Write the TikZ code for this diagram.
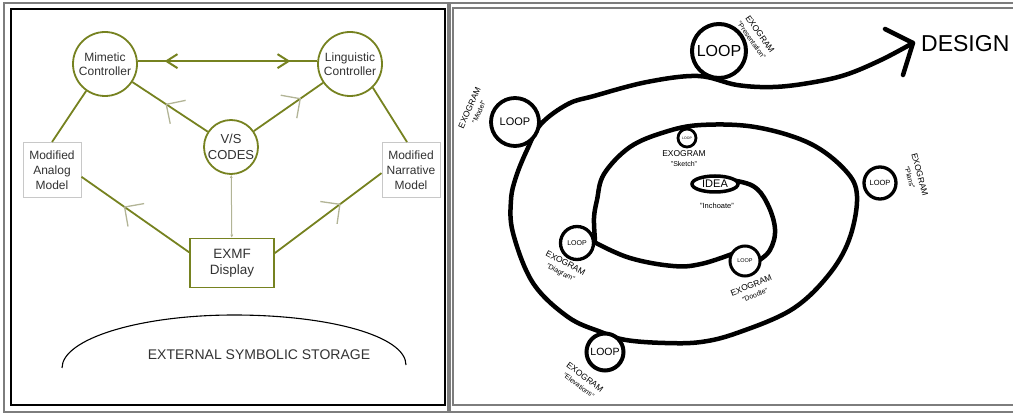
\documentclass[tikz,border=0pt]{standalone}
\usepackage{fontspec}
\setmainfont{Liberation Sans}
\usetikzlibrary{arrows.meta,decorations.markings,shapes.geometric}
\definecolor{olv}{RGB}{118,130,32}
\definecolor{pale}{RGB}{178,180,150}
\definecolor{txt}{RGB}{50,50,50}
\definecolor{boxgray}{RGB}{200,200,200}
\definecolor{framegray}{RGB}{125,125,125}
\tikzset{
 ctrl/.style={circle, draw=olv, line width=1.8pt, fill=white, minimum size=64pt, inner sep=0pt, align=center, text=txt, font=\fontsize{12}{14.5}\selectfont},
 modelbox/.style={rectangle, draw=boxgray, line width=1pt, fill=white, minimum width=58pt, minimum height=55pt, inner sep=0pt, align=center, text=txt, font=\fontsize{12}{15}\selectfont},
 olvline/.style={draw=olv, line width=1.8pt},
 thinline/.style={draw=pale, line width=1pt},
 backbarb/.style={postaction={decorate}, decoration={markings, mark=at position #1 with {\draw[pale, line width=1.3pt] (14pt,14pt) -- (0pt,0pt) -- (14pt,-14pt);}}},
 fwdbarb/.style={postaction={decorate}, decoration={markings, mark=at position #1 with {\draw[pale, line width=1.3pt] (-14pt,14pt) -- (0pt,0pt) -- (-14pt,-14pt);}}},
 loopc/.style={circle, draw=black, fill=white, inner sep=0pt},
 exo/.style={inner sep=0pt, align=center, font=\fontsize{8.5}{8.5}\selectfont},
 spiral/.style={draw=black, line width=4.5pt, line cap=round, line join=round},
}
\newcommand{\qline}[1]{{\fontsize{7}{7}\selectfont"#1"}}
\begin{document}
\begin{tikzpicture}[x=1pt,y=-1pt]
\useasboundingbox (0,0) rectangle (1013,414);
% frames
\draw[framegray, line width=1.5pt] (4,3) rectangle (448,412);
\draw[black, line width=1.8pt] (11,9) rectangle (445,405);
\draw[framegray, line width=1.5pt] (450,3) rectangle (1020,412);
\draw[framegray, line width=1.2pt] (453,8) rectangle (1020,405);

% ---------- left panel ----------
\node[ctrl] (M) at (105,64) {Mimetic\\Controller};
\node[ctrl] (L) at (350,64) {Linguistic\\Controller};
\node[ctrl, minimum size=54pt, font=\fontsize{13}{16.5}\selectfont] (VS) at (231,147) {V/S\\CODES};
\node[modelbox] (A) at (52,170) {Modified\\Analog\\Model};
\node[modelbox] (N) at (411,170) {Modified\\Narrative\\Model};
\node[draw=olv, line width=1.6pt, minimum width=84pt, minimum height=49pt, inner sep=0pt, align=center, text=txt, font=\fontsize{13.5}{16}\selectfont] (E) at (232,263) {EXMF\\Display};

\draw[olvline, postaction={decorate}, decoration={markings,
  mark=at position 0.16 with {\draw[olv,line width=2pt] (11pt,7pt)--(0pt,0pt)--(11pt,-7pt);},
  mark=at position 0.84 with {\draw[olv,line width=2pt] (-11pt,7pt)--(0pt,0pt)--(-11pt,-7pt);}}]
  (M.5) -- (L.175);
\draw[olvline, backbarb=0.45] (M) -- (VS);
\draw[olvline, backbarb=0.33] (L) -- (VS);
\draw[olvline] (M.235) -- (A.north);
\draw[olvline] (L.-46) -- ([xshift=-4pt]N.north);
\draw[olvline, backbarb=0.40] (A.-13) -- (E.166);
\draw[olvline, fwdbarb=0.61] (E.13) -- (N.186);
\draw[thinline, {Latex[length=3pt,width=3pt]}-{Latex[length=3pt,width=3pt]}] (VS) -- (E);

\draw[black, line width=1.1pt] (62,368) .. controls (62,339) and (139,315) .. (234,315)
  .. controls (329,315) and (406,336) .. (406,365);
\node[text=txt, font=\fontsize{14}{16}\selectfont] (ess) at (259,355) {EXTERNAL SYMBOLIC STORAGE};

% ---------- right panel ----------
\draw[spiral] plot[smooth, tension=0.65] coordinates {(730,180) (753,186) (767,203) (775,229) (770,250) (758,261)};
\draw[spiral] plot[smooth, tension=0.65] coordinates {(732,254) (701,264) (673,266) (630,258) (596,243)};
\draw[spiral] plot[smooth, tension=0.6] coordinates {(595,240) (594,218) (597,200) (604,174) (630,147) (665,132) (701,125) (755,127) (809,143) (845,170) (857,196) (849,240) (827,277) (791,310) (737,333) (701,342) (665,343) (626,340) (601,332) (568,317) (533,283) (513,233) (511,200) (516,177) (527,150) (541,124) (568,104) (594,96) (647,82) (698,76) (737,85) (773,87) (809,83) (845,75) (881,60) (913,43)};
\coordinate (tip) at (913,43);
\draw[spiral] (885,29) -- (tip) -- (903,75);
\node[anchor=west, inner sep=0pt, font=\fontsize{23}{23}\selectfont] (design) at (921,44) {DESIGN};

\node[loopc, line width=4pt, minimum size=54pt, font=\fontsize{16}{16}\selectfont] (Ltop) at (719,51) {LOOP};
\node[loopc, line width=3.8pt, minimum size=48pt, font=\fontsize{11}{11}\selectfont] (Lmodel) at (515,122) {LOOP};
\node[loopc, line width=3.3pt, minimum size=32pt, font=\fontsize{7.5}{7.5}\selectfont] (Lplans) at (880,183) {LOOP};
\node[loopc, line width=3.3pt, minimum size=33pt, font=\fontsize{7}{7}\selectfont] (Ldiag) at (577,243) {LOOP};
\node[loopc, line width=3pt, minimum size=30pt, font=\fontsize{5.5}{5.5}\selectfont] (Ldood) at (745,261) {LOOP};
\node[loopc, line width=4pt, minimum size=37pt, font=\fontsize{10.5}{10.5}\selectfont] (Lelev) at (605,352) {LOOP};
\node[loopc, line width=2.8pt, minimum size=18pt, font=\fontsize{3.5}{3.5}\selectfont] (Lsketch) at (687,138) {LOOP};
\node[ellipse, draw=black, fill=white, line width=3.5pt, minimum width=46pt, minimum height=16pt, inner sep=0pt, font=\fontsize{11}{11}\selectfont] (idea) at (715,184) {IDEA};

\node[exo, rotate=-55] (xpres) at (756,37) {EXOGRAM\\[1.5pt]\qline{Presentation}};
\node[exo, rotate=66] (xmodel) at (474,110) {EXOGRAM\\[1.5pt]\qline{Model}};
\node[exo, rotate=-75] (xplans) at (915,176) {EXOGRAM\\[1.5pt]\qline{Plans}};
\node[exo, rotate=-28] (xdiag) at (563,268) {EXOGRAM\\[1.5pt]\qline{Diagram}};
\node[exo, rotate=22] (xdood) at (753,290) {EXOGRAM\\[1.5pt]\qline{Doodle}};
\node[exo, rotate=-37] (xelev) at (582,381) {EXOGRAM\\[1.5pt]\qline{Elevations}};
\node[exo] (xsketch) at (684,159) {EXOGRAM\\[1.5pt]\qline{Sketch}};
\node[inner sep=0pt, font=\fontsize{7.5}{7.5}\selectfont] (inch) at (717,206) {"Inchoate"};
\end{tikzpicture}
\end{document}
